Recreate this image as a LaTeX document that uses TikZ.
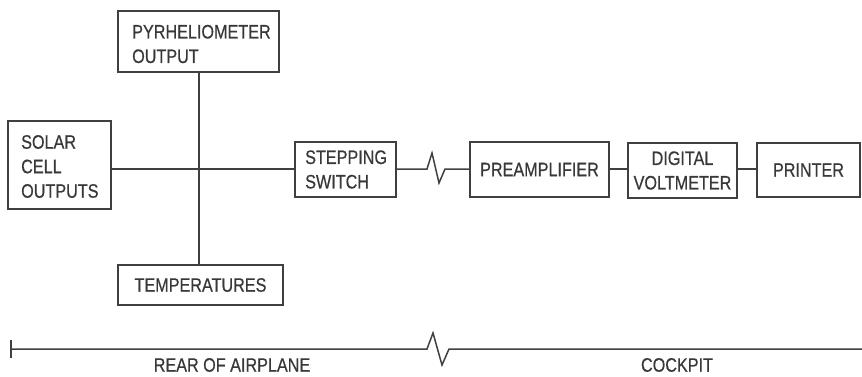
\documentclass[tikz,border=0pt]{standalone}
\usepackage{fontspec}
\setmainfont{Liberation Sans}[FakeStretch=0.83,FakeBold=0.5]
\begin{document}
\begin{tikzpicture}[x=1pt,y=-1pt,
  ink/.style={line width=1.5pt,draw=black!75},
  blk/.style={ink,rectangle,inner sep=0pt,font=\fontsize{19.5}{24.5}\selectfont,text=black!78},
  lbl/.style={font=\fontsize{19.5}{24.5}\selectfont,text=black!78,inner sep=0pt}]
\useasboundingbox (0,0) rectangle (862,376);
% boxes
\node[blk,minimum width=161pt,minimum height=61pt] (pyr) at (198.5,41.5) {};
\node[lbl,anchor=west,align=left] (pyrt) at (132,44) {PYRHELIOMETER\\OUTPUT};
\node[blk,minimum width=103pt,minimum height=88pt] (sol) at (59.5,165) {};
\node[lbl,anchor=west,align=left] (solt) at (21,166.5) {SOLAR\\CELL\\OUTPUTS};
\node[blk,minimum width=165pt,minimum height=40pt] (tmp) at (200.5,285) {TEMPERATURES};
\node[blk,minimum width=101pt,minimum height=55pt] (stp) at (345.5,169.5) {};
\node[lbl,anchor=west,align=left] (stpt) at (305,169.5) {STEPPING\\SWITCH};
\node[blk,minimum width=139pt,minimum height=55pt] (pre) at (539.5,169.5) {PREAMPLIFIER};
\node[blk,minimum width=109pt,minimum height=55pt,align=center] (dvm) at (682.5,170.5) {DIGITAL\\VOLTMETER};
\node[blk,minimum width=103pt,minimum height=54pt] (prn) at (808.5,170) {PRINTER};
% connectors
\coordinate (J) at (199,169);
\draw[ink] (pyr.south -| J) -- (tmp.north -| J);
\draw[ink] (sol.east |- J) -- (J) -- (stp.west |- J);
\coordinate (zz) at (427,169);
\draw[ink] (stp.east |- zz) -- (zz) -- ++(5,-16) -- ++(7,30) -- ++(6,-14) -- (pre.west |- zz);
\draw[ink] (pre.east |- J) -- (dvm.west |- J);
\draw[ink] (dvm.east |- J) -- (prn.west |- J);
% bottom scale
\coordinate (bl) at (11,349);
\coordinate (bt) at (11,340);
\coordinate (bb) at (11,358);
\coordinate (bz) at (427,349);
\coordinate (br) at (862,349);
\draw[ink] (bt) -- (bb);
\draw[ink] (bl) -- (bz) -- ++(6,-16) -- ++(9,32) -- ++(7,-16) -- (br);
\node[lbl] (rear) at (232,365) {REAR OF AIRPLANE};
\node[lbl] (cock) at (677,365) {COCKPIT};
\end{tikzpicture}
\end{document}
